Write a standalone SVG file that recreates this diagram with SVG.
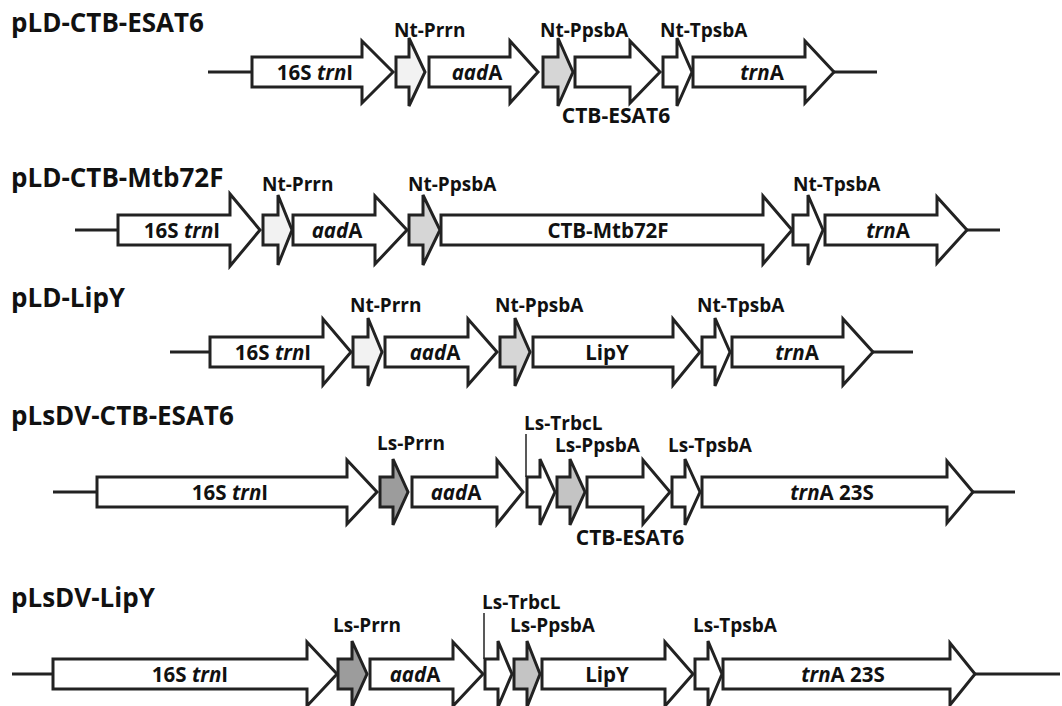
<svg xmlns="http://www.w3.org/2000/svg" width="1062" height="706" viewBox="0 0 1062 706">
<style>
.bg{fill:#fff}
.ar{fill:#fff;stroke:#222;stroke-width:3;stroke-linejoin:miter}
.p1{fill:#f2f2f2}
.p2{fill:#d6d6d6}
.p3{fill:#9c9c9c}
.p4{fill:#c4c4c4}
.ln{stroke:#222;stroke-width:3;fill:none}
.ld{stroke:#222;stroke-width:1.5;fill:none}
.t{font-family:"Open Sans","Liberation Sans",sans-serif;font-weight:bold;fill:#111}
.ti{font-size:26px}
.lb{font-size:19px}
.lc{font-size:21px;text-anchor:middle}
.in{font-size:20.5px;text-anchor:middle}
.it{font-style:italic}
</style>
<rect class="bg" x="0" y="0" width="1062" height="706"/>

<!-- Row 1 -->
<g id="row1">
<text class="t ti" x="11" y="32">pLD-CTB-ESAT6</text>
<g id="r1-connectors"><line class="ln" x1="208" y1="72" x2="252" y2="72"/><line class="ln" x1="834" y1="72" x2="877" y2="72"/></g>
<g id="r1-16S"><polygon class="ar" points="252,57 362,57 362,41 393,72 362,103 362,87 252,87"/><text class="t in" x="315" y="80">16S <tspan class="it">trn</tspan>I</text></g>
<g id="r1-NtPrrn"><polygon class="ar p1" points="396,57 409,57 409,38 425,72 409,106 409,87 396,87"/><text class="t lb" x="394" y="37">Nt-Prrn</text></g>
<g id="r1-aadA"><polygon class="ar" points="429,57 510,57 510,41 538,72 510,103 510,87 429,87"/><text class="t in" x="477" y="80"><tspan class="it">aad</tspan>A</text></g>
<g id="r1-NtPpsbA"><polygon class="ar p2" points="543,57 558,57 558,38 573,72 558,106 558,87 543,87"/><text class="t lb" x="540" y="37">Nt-PpsbA</text></g>
<g id="r1-CTB"><polygon class="ar" points="575,57 630,57 630,41 660,72 630,103 630,87 575,87"/><text class="t lc" x="616" y="123">CTB-ESAT6</text></g>
<g id="r1-NtTpsbA"><polygon class="ar" points="663,57 677,57 677,38 692,72 677,106 677,87 663,87"/><text class="t lb" x="660" y="37">Nt-TpsbA</text></g>
<g id="r1-trnA"><polygon class="ar" points="693,57 805,57 805,41 834,72 805,103 805,87 693,87"/><text class="t in" x="762" y="80"><tspan class="it">trn</tspan>A</text></g>
</g>

<!-- Row 2 -->
<g id="row2">
<text class="t ti" x="11" y="187">pLD-CTB-Mtb72F</text>
<g id="r2-connectors"><line class="ln" x1="75" y1="230" x2="118" y2="230"/><line class="ln" x1="967" y1="230" x2="1000" y2="230"/></g>
<g id="r2-16S"><polygon class="ar" points="118,215 230,215 230,194 260,230 230,266 230,245 118,245"/><text class="t in" x="182" y="238">16S <tspan class="it">trn</tspan>I</text></g>
<g id="r2-NtPrrn"><polygon class="ar p1" points="263,215 278,215 278,195 292,230 278,265 278,245 263,245"/><text class="t lb" x="262" y="191">Nt-Prrn</text></g>
<g id="r2-aadA"><polygon class="ar" points="293,215 375,215 375,196 407,230 375,264 375,245 293,245"/><text class="t in" x="337" y="238"><tspan class="it">aad</tspan>A</text></g>
<g id="r2-NtPpsbA"><polygon class="ar p2" points="409,215 423,215 423,195 440,230 423,265 423,245 409,245"/><text class="t lb" x="408" y="191">Nt-PpsbA</text></g>
<g id="r2-CTB"><polygon class="ar" points="441,215 763,215 763,196 792,230 763,264 763,245 441,245"/><text class="t in" x="608" y="238">CTB-Mtb72F</text></g>
<g id="r2-NtTpsbA"><polygon class="ar" points="793,215 808,215 808,195 823,230 808,265 808,245 793,245"/><text class="t lb" x="793" y="191">Nt-TpsbA</text></g>
<g id="r2-trnA"><polygon class="ar" points="825,215 937,215 937,197 967,230 937,263 937,245 825,245"/><text class="t in" x="888" y="238"><tspan class="it">trn</tspan>A</text></g>
</g>

<!-- Row 3 -->
<g id="row3">
<text class="t ti" x="11" y="307">pLD-LipY</text>
<g id="r3-connectors"><line class="ln" x1="170" y1="352" x2="210" y2="352"/><line class="ln" x1="873" y1="352" x2="913" y2="352"/></g>
<g id="r3-16S"><polygon class="ar" points="210,337 323,337 323,319 351,352 323,385 323,367 210,367"/><text class="t in" x="273" y="360">16S <tspan class="it">trn</tspan>I</text></g>
<g id="r3-NtPrrn"><polygon class="ar p1" points="353,337 368,337 368,318 382,352 368,386 368,367 353,367"/><text class="t lb" x="350" y="312">Nt-Prrn</text></g>
<g id="r3-aadA"><polygon class="ar" points="385,337 468,337 468,319 497,352 468,385 468,367 385,367"/><text class="t in" x="435" y="360"><tspan class="it">aad</tspan>A</text></g>
<g id="r3-NtPpsbA"><polygon class="ar p2" points="500,337 515,337 515,318 530,352 515,386 515,367 500,367"/><text class="t lb" x="495" y="312">Nt-PpsbA</text></g>
<g id="r3-LipY"><polygon class="ar" points="533,337 673,337 673,319 700,352 673,385 673,367 533,367"/><text class="t in" x="607" y="360">LipY</text></g>
<g id="r3-NtTpsbA"><polygon class="ar" points="702,337 715,337 715,318 730,352 715,386 715,367 702,367"/><text class="t lb" x="697" y="312">Nt-TpsbA</text></g>
<g id="r3-trnA"><polygon class="ar" points="732,337 843,337 843,319 873,352 843,385 843,367 732,367"/><text class="t in" x="797" y="360"><tspan class="it">trn</tspan>A</text></g>
</g>

<!-- Row 4 -->
<g id="row4">
<text class="t ti" x="11" y="425">pLsDV-CTB-ESAT6</text>
<g id="r4-connectors"><line class="ln" x1="53" y1="492" x2="97" y2="492"/><line class="ln" x1="973" y1="492" x2="1015" y2="492"/><line class="ld" x1="526" y1="434" x2="526" y2="477"/></g>
<g id="r4-16S"><polygon class="ar" points="97,477 347,477 347,460 377,492 347,524 347,507 97,507"/><text class="t in" x="230" y="500">16S <tspan class="it">trn</tspan>I</text></g>
<g id="r4-LsPrrn"><polygon class="ar p3" points="380,477 393,477 393,459 408,492 393,525 393,507 380,507"/><text class="t lb" x="377" y="450">Ls-Prrn</text></g>
<g id="r4-aadA"><polygon class="ar" points="412,477 497,477 497,460 523,492 497,524 497,507 412,507"/><text class="t in" x="456" y="500"><tspan class="it">aad</tspan>A</text></g>
<g id="r4-LsTrbcL"><polygon class="ar" points="527,477 540,477 540,459 555,492 540,525 540,507 527,507"/><text class="t lb" x="524" y="430">Ls-TrbcL</text></g>
<g id="r4-LsPpsbA"><polygon class="ar p4" points="557,477 570,477 570,459 585,492 570,525 570,507 557,507"/><text class="t lb" x="555" y="452">Ls-PpsbA</text></g>
<g id="r4-CTB"><polygon class="ar" points="587,477 643,477 643,460 670,492 643,524 643,507 587,507"/><text class="t lc" x="630" y="545">CTB-ESAT6</text></g>
<g id="r4-LsTpsbA"><polygon class="ar" points="672,477 685,477 685,459 700,492 685,525 685,507 672,507"/><text class="t lb" x="668" y="452">Ls-TpsbA</text></g>
<g id="r4-trnA"><polygon class="ar" points="702,477 947,477 947,461 973,492 947,523 947,507 702,507"/><text class="t in" x="832" y="500"><tspan class="it">trn</tspan>A 23S</text></g>
</g>

<!-- Row 5 -->
<g id="row5">
<text class="t ti" x="11" y="607">pLsDV-LipY</text>
<g id="r5-connectors"><line class="ln" x1="12" y1="674" x2="53" y2="674"/><line class="ln" x1="975" y1="674" x2="1060" y2="674"/><line class="ld" x1="484" y1="613" x2="484" y2="659"/></g>
<g id="r5-16S"><polygon class="ar" points="53,659 307,659 307,642 337,674 307,706 307,689 53,689"/><text class="t in" x="190" y="682">16S <tspan class="it">trn</tspan>I</text></g>
<g id="r5-LsPrrn"><polygon class="ar p3" points="338,659 352,659 352,641 367,674 352,707 352,689 338,689"/><text class="t lb" x="333" y="632">Ls-Prrn</text></g>
<g id="r5-aadA"><polygon class="ar" points="370,659 453,659 453,642 483,674 453,706 453,689 370,689"/><text class="t in" x="415" y="682"><tspan class="it">aad</tspan>A</text></g>
<g id="r5-LsTrbcL"><polygon class="ar" points="485,659 498,659 498,641 512,674 498,707 498,689 485,689"/><text class="t lb" x="482" y="609">Ls-TrbcL</text></g>
<g id="r5-LsPpsbA"><polygon class="ar p4" points="514,659 527,659 527,641 540,674 527,707 527,689 514,689"/><text class="t lb" x="510" y="632">Ls-PpsbA</text></g>
<g id="r5-LipY"><polygon class="ar" points="542,659 665,659 665,642 693,674 665,706 665,689 542,689"/><text class="t in" x="607" y="682">LipY</text></g>
<g id="r5-LsTpsbA"><polygon class="ar" points="695,659 708,659 708,641 722,674 708,707 708,689 695,689"/><text class="t lb" x="693" y="632">Ls-TpsbA</text></g>
<g id="r5-trnA"><polygon class="ar" points="723,659 950,659 950,643 975,674 950,705 950,689 723,689"/><text class="t in" x="843" y="682"><tspan class="it">trn</tspan>A 23S</text></g>
</g>
</svg>
